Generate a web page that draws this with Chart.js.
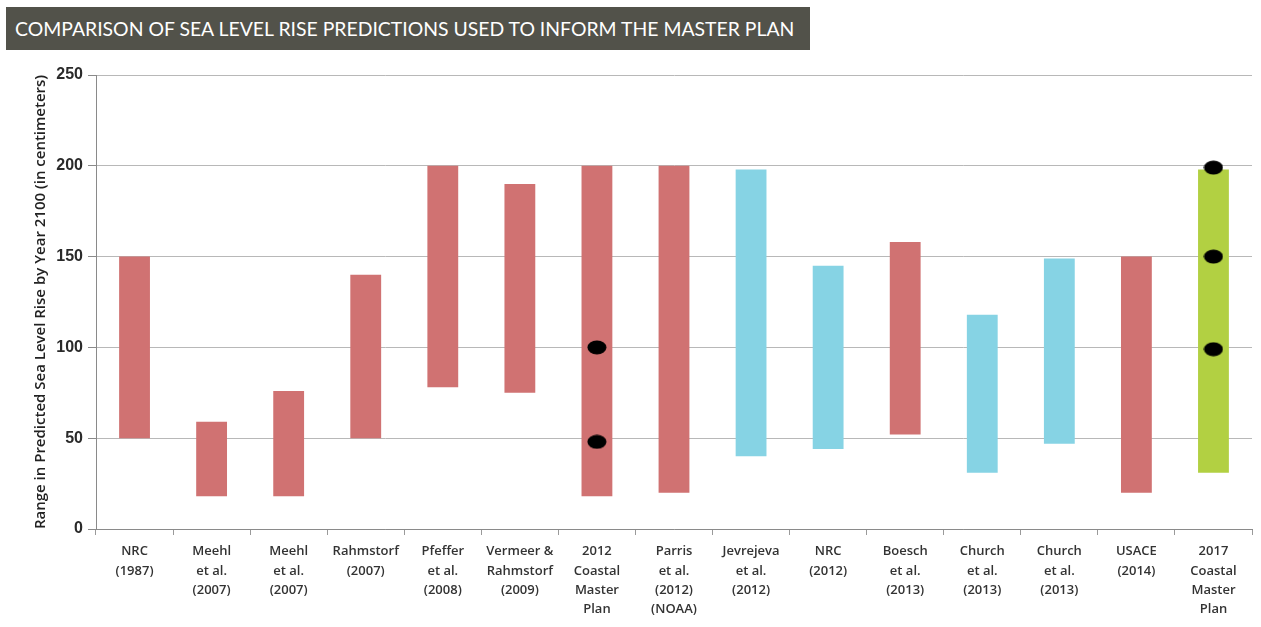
<!DOCTYPE html>
<html lang="en">
  <head>
    <meta charset="UTF-8" />
    <title>Sea Level Rise Predictions</title>
    <style>
      html, body {
        margin: 0;
        padding: 0;
        background: #fff;
      }
      .wrap {
        position: relative;
        width: 1261px;
        height: 627px;
        overflow: hidden;
      }
      .title {
        position: absolute;
        left: 6px;
        top: 7px;
        width: 804px;
        height: 43px;
        background: #52524a;
        color: #fff;
        font-family: Lato, sans-serif;
        font-size: 19.4px;
        line-height: 43px;
        padding-left: 9px;
        box-sizing: border-box;
        white-space: nowrap;
        z-index: 2;
      }
      .chart-box {
        position: absolute;
        left: 0;
        top: 0;
        width: 1261px;
        height: 627px;
      }
    </style>
  </head>
  <body>
    <div class="wrap">
      <div class="title">COMPARISON OF SEA LEVEL RISE PREDICTIONS USED TO INFORM THE MASTER PLAN</div>
      <div class="chart-box"><canvas id="slrChart" width="1261" height="627"></canvas></div>
    </div>

    <script src="https://cdn.jsdelivr.net/npm/chart.js@4.4.1/dist/chart.umd.min.js"></script>
    <script>
      // studies on the x axis
      var studies = [
        ["NRC", "(1987)"],
        ["Meehl", "et al.", "(2007)"],
        ["Meehl", "et al.", "(2007)"],
        ["Rahmstorf", "(2007)"],
        ["Pfeffer", "et al.", "(2008)"],
        ["Vermeer &", "Rahmstorf", "(2009)"],
        ["2012", "Coastal", "Master", "Plan"],
        ["Parris", "et al.", "(2012)", "(NOAA)"],
        ["Jevrejeva", "et al.", "(2012)"],
        ["NRC", "(2012)"],
        ["Boesch", "et al.", "(2013)"],
        ["Church", "et al.", "(2013)"],
        ["Church", "et al.", "(2013)"],
        ["USACE", "(2014)"],
        ["2017", "Coastal", "Master", "Plan"]
      ];

      // range of predicted rise by 2100 (cm)
      var lowValues = [50, 18, 18, 50, 78, 75, 18, 20, 40, 44, 52, 31, 47, 20, 31];
      var highValues = [150, 59, 76, 140, 200, 190, 200, 200, 198, 145, 158, 118, 149, 150, 198];

      // which kind of bar each study gets
      var barGroup = ["red", "red", "red", "red", "red", "red", "red", "red", "cyan", "cyan", "red", "cyan", "cyan", "red", "green"];

      // scenarios marked with a dot (index into studies)
      var dotStudy = [6, 6, 14, 14, 14];
      var dotValue = [100, 48, 199, 150, 99];

      var yTicks = [0, 50, 100, 150, 200, 250];

      var groupColors = { red: "#d07272", cyan: "#86d3e4", green: "#b2d042" };

      var ranges = [];
      var colors = [];
      for (var i = 0; i < studies.length; i++) {
        ranges.push([lowValues[i], highValues[i]]);
        colors.push(groupColors[barGroup[i]]);
      }

      // x must be the label itself so the category scale finds it
      var dots = [];
      for (var j = 0; j < dotStudy.length; j++) {
        dots.push({ x: studies[dotStudy[j]], y: dotValue[j] });
      }

      // flattened black dot used as the marker
      var dotImg = document.createElement("canvas");
      dotImg.width = 20;
      dotImg.height = 15;
      var dctx = dotImg.getContext("2d");
      dctx.fillStyle = "#000";
      dctx.beginPath();
      dctx.ellipse(10, 7.5, 9.5, 7, 0, 0, Math.PI * 2);
      dctx.fill();

      var ctx = document.getElementById("slrChart").getContext("2d");
      var slrChart = new Chart(ctx, {
        type: "bar",
        data: {
          labels: studies,
          datasets: [
            {
              type: "scatter",
              data: dots,
              pointStyle: dotImg,
              pointRadius: 8,
              order: 0
            },
            {
              data: ranges,
              backgroundColor: colors,
              borderWidth: 0,
              barPercentage: 0.8,
              categoryPercentage: 0.5,
              order: 1
            }
          ]
        },
        options: {
          responsive: false,
          animation: false,
          devicePixelRatio: 1,
          layout: { padding: { top: 75, right: 8, left: 32, bottom: 0 } },
          plugins: {
            legend: { display: false },
            tooltip: { enabled: false }
          },
          scales: {
            x: {
              offset: true,
              grid: {
                offset: true,
                drawOnChartArea: false,
                drawTicks: true,
                tickLength: 6,
                color: "#9a9a9a"
              },
              border: { color: "#8a8a8a", width: 1 },
              ticks: {
                color: "#333",
                font: { family: "Open Sans", size: 13, weight: "600", lineHeight: 1.48 },
                maxRotation: 0,
                autoSkip: false,
                padding: 7
              },
              afterFit: function (scale) {
                scale.height = 98;
              }
            },
            y: {
              min: 0,
              max: 250,
              afterBuildTicks: function (scale) {
                scale.ticks = yTicks.map(function (v) {
                  return { value: v };
                });
              },
              grid: {
                color: "#b8b8b8",
                tickLength: 8,
                tickColor: "#8a8a8a"
              },
              border: { color: "#8a8a8a", width: 1 },
              ticks: {
                color: "#2a2a2a",
                font: { family: "Liberation Sans", size: 16, weight: "bold" },
                padding: 5
              },
              title: {
                display: true,
                text: "Range in Predicted Sea Level Rise by Year 2100 (in centimeters)",
                color: "#222",
                font: { family: "Open Sans", size: 15, weight: "600" },
                padding: { top: 0, bottom: 4 }
              },
              afterFit: function (scale) {
                scale.width = 64;
              }
            }
          }
        }
      });
    </script>
  </body>
</html>
